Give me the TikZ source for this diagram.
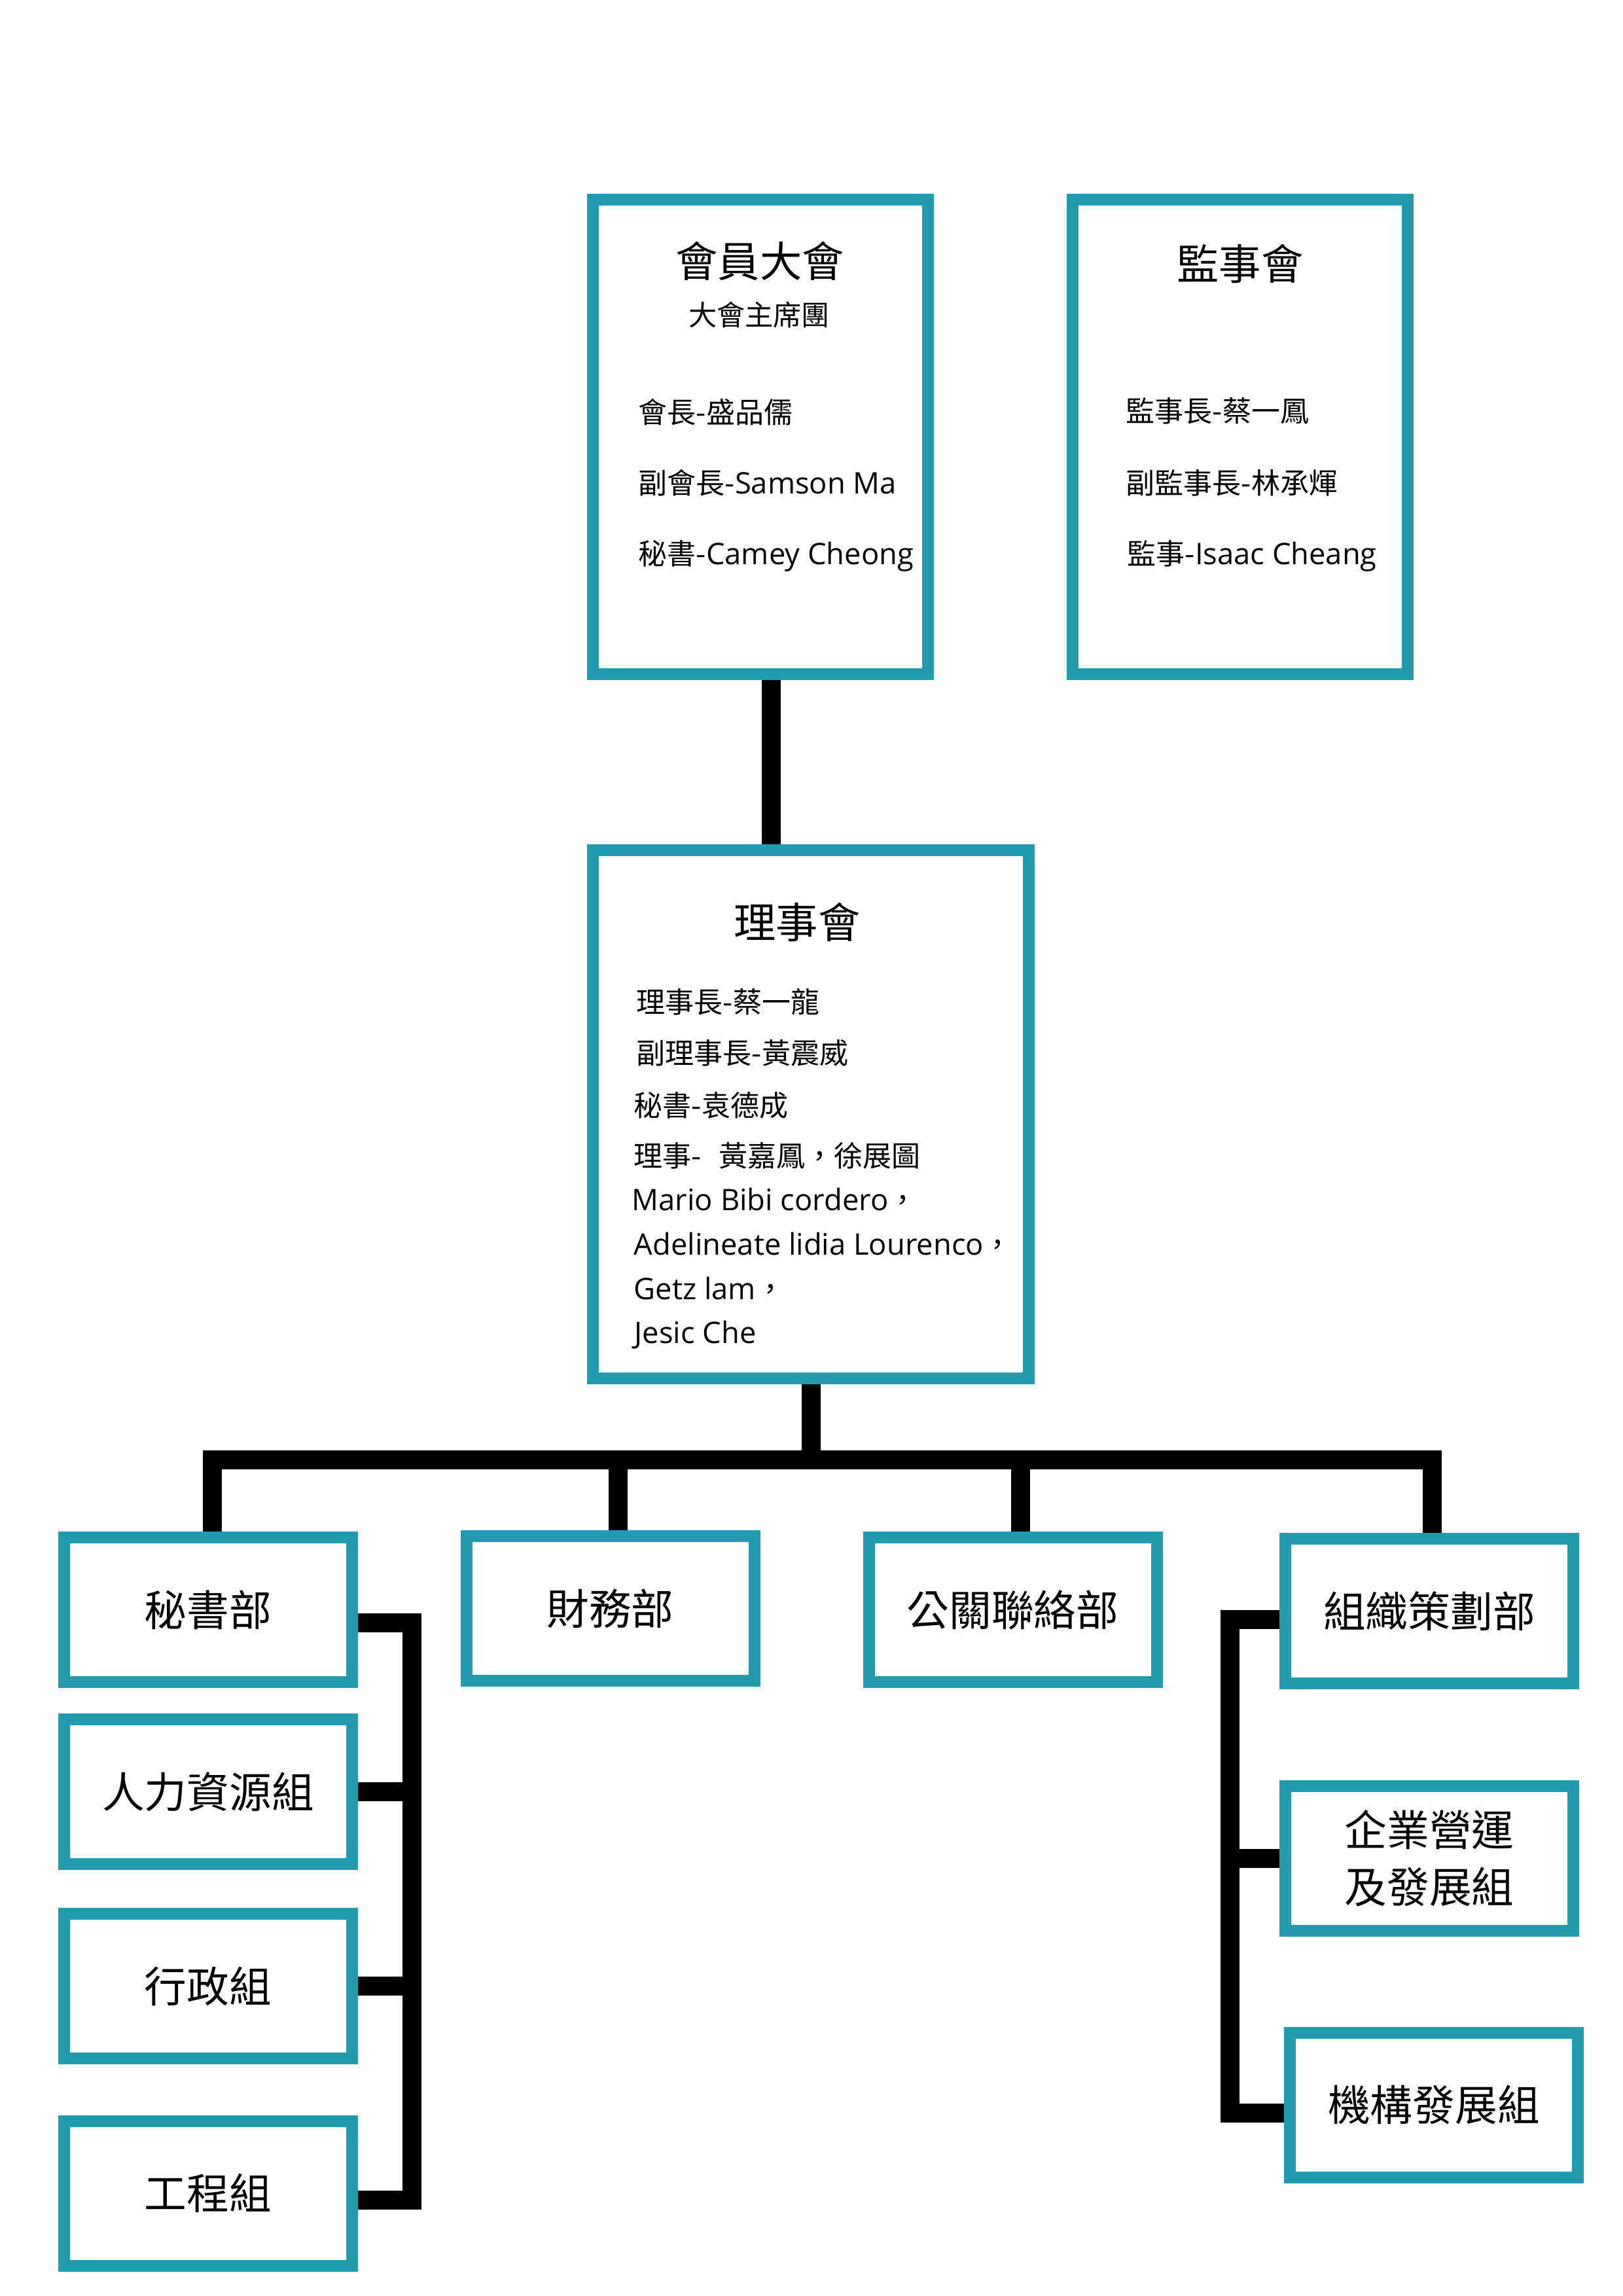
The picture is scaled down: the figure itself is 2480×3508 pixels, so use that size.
\documentclass[tikz,border=0pt]{standalone}
\usepackage{fontspec}
\setmainfont{Noto Sans CJK TC}
\newfontfamily\enfont{Open Sans}[Scale=1.03]
\newlength\unitpx
\setlength\unitpx{0.084667mm}
\definecolor{boxteal}{RGB}{35,155,175}

\begin{document}
\begin{tikzpicture}[x=0.084667mm, y=-0.084667mm,
  panel/.style={draw=boxteal, line width=18\unitpx, fill=white, inner sep=0pt,
    minimum width=440\unitpx, minimum height=221\unitpx, align=center,
    font=\fontsize{15.6}{20.9}\selectfont},
  bigpanel/.style={panel, minimum width=512\unitpx, minimum height=725\unitpx},
  title/.style={inner sep=0pt, anchor=base, font=\fontsize{15.5}{18}\selectfont},
  body/.style={inner sep=0pt, anchor=base west, font=\fontsize{10.6}{13}\selectfont},
  link/.style={line width=29\unitpx}]
\fill[white] (0,0) rectangle (2480,3508);
\useasboundingbox (0,0) rectangle (2480,3508);

% general meeting and supervisors
\node[bigpanel] (gm) at (1162,667.5) {};
\node[bigpanel] (superv) at (1895,667.5) {};
\node[title] (gmT) at (1161,423) {會員大會};
\node[title, font=\fontsize{10.4}{13}\selectfont] (gmS) at (1160,497) {大會主席團};
\node[body] (gm1) at (975,646) {會長-盛品儒};
\node[body] (gm2) at (975,754) {副會長-{\enfont Samson Ma}};
\node[body] (gm3) at (975,862) {秘書-{\enfont Camey Cheong}};
\node[title] (supT) at (1895,427) {監事會};
\node[body] (sup1) at (1720,644) {監事長-蔡一鳳};
\node[body] (sup2) at (1720,754) {副監事長-林承煇};
\node[body] (sup3) at (1722,862) {監事-{\enfont Isaac Cheang}};

% board
\node[bigpanel, minimum width=666\unitpx, minimum height=807\unitpx] (board) at (1239,1702.5) {};
\node[title] (boardT) at (1218,1433) {理事會};
\node[body] (b1) at (972,1547) {理事長-蔡一龍};
\node[body] (b2) at (972,1625) {副理事長-黃震威};
\node[body] (b3) at (968,1705) {秘書-袁德成};
\node[body] (b4) at (968,1782) {理事-\hspace{0.6em}黃嘉鳳，徐展圖};
\node[body] (b5) at (965,1849) {{\enfont Mario Bibi cordero}，};
\node[body] (b6) at (968,1917) {{\enfont Adelineate lidia Lourenco}，};
\node[body] (b7) at (968,1985) {{\enfont Getz lam}，};
\node[body] (b8) at (969,2052) {{\enfont Jesic Che}};

% departments
\node[panel] (sec) at (318,2459.5) {秘書部};
\node[panel] (fin) at (932.5,2457.5) {財務部};
\node[panel] (pr) at (1547.5,2459.5) {公關聯絡部};
\node[panel] (org) at (2184,2461.5) {組織策劃部};
\node[panel] (hr) at (318,2737.5) {人力資源組};
\node[panel] (adm) at (318,3034.5) {行政組};
\node[panel] (eng) at (318,3351) {工程組};
\node[panel] (biz) at (2184,2839) {企業營運\\及發展組};
\node[panel] (inst) at (2191,3216) {機構發展組};

% connectors
\coordinate (gmfoot) at ([xshift=16.5\unitpx]gm.south);
\coordinate (bus) at ([yshift=-115.5\unitpx]board.south);
\coordinate (secT) at ([xshift=6.5\unitpx]sec.north);
\coordinate (finT) at ([xshift=11.5\unitpx]fin.north);
\coordinate (prT) at ([xshift=11.5\unitpx]pr.north);
\coordinate (orgT) at ([xshift=4.5\unitpx]org.north);
\coordinate (secR) at ([yshift=-20\unitpx]sec.east);
\coordinate (engR) at ([yshift=-10\unitpx]eng.east);
\coordinate (orgL) at ([yshift=-13\unitpx]org.west);
\coordinate (instL) at ([yshift=-12\unitpx]inst.west);
\coordinate (lbar) at (629.5,0);
\coordinate (rbar) at (1879.5,0);
\draw[link] (gmfoot) -- (gmfoot |- board.north);
\draw[link] (board.south) -- (bus);
\draw[link] (secT) |- (bus) -| (orgT);
\draw[link] (finT) -- (finT |- bus);
\draw[link] (prT) -- (prT |- bus);
\draw[link] (secR) -| (lbar |- engR) -- (engR);
\draw[link] (hr.east) -- (hr.east -| lbar);
\draw[link] (adm.east) -- (adm.east -| lbar);
\draw[link] (orgL) -| (rbar |- instL) -- (instL);
\draw[link] (biz.west) -- (biz.west -| rbar);
\end{tikzpicture}
\end{document}
